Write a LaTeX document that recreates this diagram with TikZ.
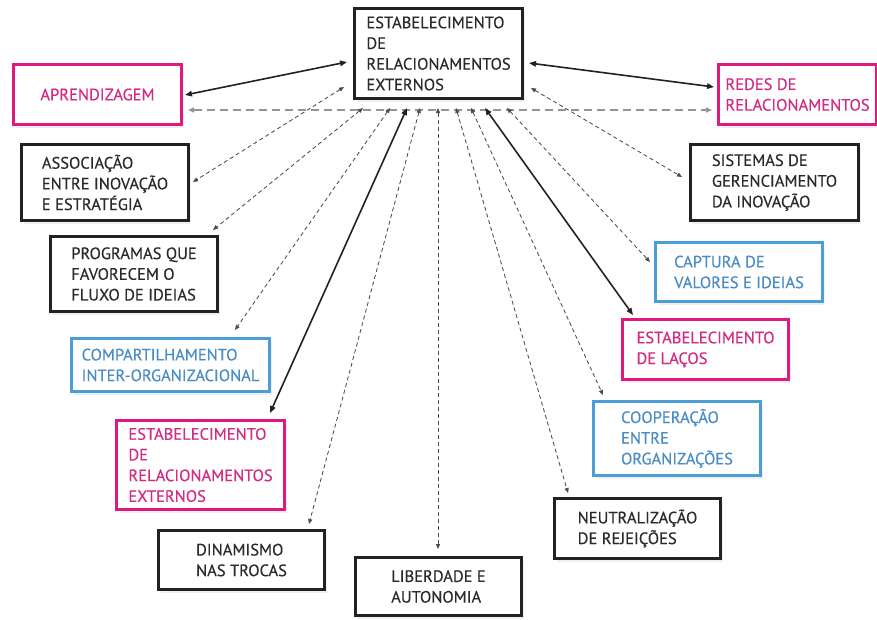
\documentclass[tikz,border=0pt]{standalone}
\usepackage{fontspec}
\setmainfont{PT Sans}
\newfontfamily\boxfont{PT Sans}[FakeBold=0.35]
\usetikzlibrary{arrows.meta,calc,shadows}
\definecolor{mag}{HTML}{E0197F}
\definecolor{magtxt}{HTML}{D42A82}
\definecolor{blu}{HTML}{4C9ED6}
\definecolor{blutxt}{HTML}{4A8CC4}
\definecolor{blk}{HTML}{222222}
\definecolor{blktxt}{HTML}{2A2A2A}
\begin{document}
\begin{tikzpicture}[x=1pt,y=-1pt,
  box/.style={draw, line width=3.2pt, fill=white, align=left, inner sep=0pt,
    font=\boxfont\fontsize{16.5}{20.7}\selectfont,
    drop shadow={opacity=0.13, shadow xshift=2.5pt, shadow yshift=-3.5pt}},
  bbox/.style={box, draw=blk, text=blktxt},
  mbox/.style={box, draw=mag, text=magtxt},
  cbox/.style={box, draw=blu, text=blutxt},
  sz/.style 2 args={minimum width=#1pt-3.2pt, minimum height=#2pt-3.2pt},
  solidarr/.style={{Triangle[length=7pt,width=5.5pt]}-{Triangle[length=7pt,width=5.5pt]}, line width=1.6pt, draw=blk},
  dasharr/.style={{Triangle[length=5pt,width=4.2pt]}-{Triangle[length=5pt,width=4.2pt]}, line width=0.85pt, draw=black!70, dash pattern=on 4pt off 3pt},
  grayarr/.style={{Triangle[length=6pt,width=5pt]}-{Triangle[length=6pt,width=5pt]}, line width=1.4pt, draw=black!42, dash pattern=on 8pt off 5pt}
]
\useasboundingbox (0,0) rectangle (877,619);

\node[bbox, sz={171}{93}] (c) at (438.5,53.5) {ESTABELECIMENTO\\DE\\RELACIONAMENTOS\\EXTERNOS};
\node[mbox, sz={171}{63}] (apr) at (97.5,94.5) {APRENDIZAGEM};
\node[mbox, sz={161}{63}] (redes) at (797.5,94.5) {REDES DE\\RELACIONAMENTOS};
\node[bbox, sz={170}{79}] (assoc) at (105,182.5) {ASSOCIAÇÃO\\ENTRE INOVAÇÃO\\E ESTRATÉGIA};
\node[bbox, sz={171}{79}] (sist) at (774.5,182.5) {SISTEMAS DE\\GERENCIAMENTO\\DA INOVAÇÃO};
\node[bbox, sz={170}{78}] (prog) at (134,274) {PROGRAMAS QUE\\FAVORECEM O\\FLUXO DE IDEIAS};
\node[cbox, sz={170}{62}] (capt) at (739,272) {CAPTURA DE\\VALORES E IDEIAS};
\node[cbox, sz={201}{56}] (comp) at (170.5,365) {COMPARTILHAMENTO\\INTER-ORGANIZACIONAL};
\node[mbox, sz={169}{63}] (lacos) at (705.5,349.5) {ESTABELECIMENTO\\DE LAÇOS};
\node[mbox, sz={171}{92}] (estp) at (200.5,465) {ESTABELECIMENTO\\DE\\RELACIONAMENTOS\\EXTERNOS};
\node[cbox, sz={170}{77}] (coop) at (677,438.5) {COOPERAÇÃO\\ENTRE\\ORGANIZAÇÕES};
\node[bbox, sz={169}{63}] (neut) at (637.5,528.5) {NEUTRALIZAÇÃO\\DE REJEIÇÕES};
\node[bbox, sz={169}{62}] (dina) at (241.5,560) {DINAMISMO\\NAS TROCAS};
\node[bbox, sz={169}{61}] (lib) at (438.5,586.5) {LIBERDADE E\\AUTONOMIA};

% gray horizontal dashed
\draw[grayarr] ($(apr)+(90.5,15.5)$) -- ($(redes)+(-85.5,15.5)$);

% dashed connectors
\draw[dasharr] ($(c)+(-94.5,33.5)$) -- ($(assoc)+(88,-0.5)$);
\draw[dasharr] ($(c)+(-75.5,54.5)$) -- ($(prog)+(79,-44)$);
\draw[dasharr] ($(c)+(-48.5,54.5)$) -- ($(comp)+(64.5,-35)$);
\draw[dasharr] ($(c)+(-18.5,54.5)$) -- ($(dina)+(67.5,-36)$);
\draw[dasharr] ($(c)+(-0.5,54.5)$) -- ($(lib)+(-0.5,-37.5)$);
\draw[dasharr] ($(c)+(17.5,54.5)$) -- ($(neut)+(-69.5,-35.5)$);
\draw[dasharr] ($(c)+(32.5,54.5)$) -- ($(coop)+(-74,-43.5)$);
\draw[dasharr] ($(c)+(68.5,54.5)$) -- ($(capt)+(-89,-10)$);
\draw[dasharr] ($(c)+(92.5,34.5)$) -- ($(sist)+(-92.5,-5.5)$);

% solid connectors
\draw[solidarr] ($(c)+(-91.5,8.5)$) -- ($(apr)+(87.5,0.5)$);
\draw[solidarr] ($(c)+(90.5,9.5)$) -- ($(redes)+(-83.5,-7.5)$);
\draw[solidarr] ($(c)+(-31.5,54.5)$) -- ($(estp)+(69.5,-52)$);
\draw[solidarr] ($(c)+(46.5,54.5)$) -- ($(lacos)+(-72.5,-34.5)$);
\end{tikzpicture}
\end{document}
